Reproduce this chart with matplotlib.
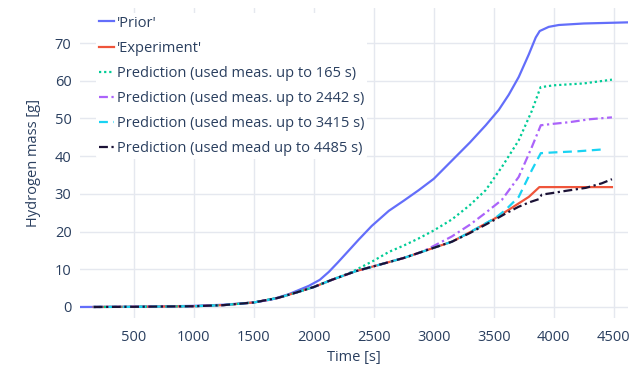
import matplotlib.pyplot as plt

# Hydrogen mass over time: prior model, experiment and predictions
prior_time = [50, 500, 1000, 1250, 1500, 1650, 1792, 1958, 2050, 2125, 2200,
              2292, 2375, 2483, 2625, 2750, 2875, 3000, 3150, 3300, 3433, 3542,
              3625, 3708, 3792, 3850, 3883, 3958, 4042, 4250, 4620]
prior_mass = [0, 0.05, 0.3, 0.6, 1.2, 2.0, 3.4, 5.6, 7.2, 9.3, 11.8,
              15.0, 17.9, 21.5, 25.5, 28.2, 31.0, 34.0, 38.8, 43.6, 48.2, 52.3,
              56.3, 61.0, 67.0, 71.5, 73.2, 74.3, 74.8, 75.2, 75.5]

exp_time = [165, 500, 1000, 1250, 1500, 1700, 1850, 2000, 2150, 2350, 2500, 2750,
            3000, 3150, 3300, 3500, 3650, 3792, 3880, 4485]
exp_mass = [0, 0.05, 0.2, 0.5, 1.2, 2.4, 3.8, 5.3, 7.2, 9.5, 10.8, 13.0,
            15.7, 17.3, 19.8, 23.3, 26.3, 29.2, 31.8, 31.8]

pred_165_time = [165, 500, 1000, 1250, 1500, 1700, 1850, 2000, 2150, 2317, 2500,
                 2625, 2750, 2875, 3000, 3150, 3300, 3433, 3567, 3708, 3817,
                 3890, 4000, 4250, 4485]
pred_165_mass = [0, 0.05, 0.2, 0.5, 1.2, 2.4, 3.8, 5.3, 7.2, 9.3, 12.3,
                 14.6, 16.3, 18.2, 20.3, 23.2, 27.0, 31.0, 37.1, 44.2, 52.0,
                 58.3, 58.8, 59.3, 60.3]

pred_2442_time = [165, 500, 1000, 1250, 1500, 1700, 1850, 2000, 2150, 2350, 2500,
                  2750, 2900, 3000, 3150, 3300, 3433, 3567, 3708, 3817, 3892,
                  4000, 4125, 4300, 4485]
pred_2442_mass = [0, 0.05, 0.2, 0.5, 1.2, 2.4, 3.8, 5.3, 7.2, 9.5, 10.8,
                  13.0, 14.6, 16.2, 18.7, 21.8, 25.0, 28.4, 34.5, 42.4, 48.2,
                  48.6, 49.0, 49.8, 50.3]

pred_3415_time = [165, 500, 1000, 1250, 1500, 1700, 1850, 2000, 2150, 2350, 2500,
                  2750, 3000, 3150, 3300, 3517, 3600, 3708, 3817, 3892, 4000,
                  4200, 4410]
pred_3415_mass = [0, 0.05, 0.2, 0.5, 1.2, 2.4, 3.8, 5.3, 7.2, 9.5, 10.8,
                  13.0, 15.7, 17.3, 19.8, 23.7, 25.8, 29.2, 36.3, 40.8, 41.0,
                  41.3, 41.8]

pred_4485_time = [165, 500, 1000, 1250, 1500, 1700, 1850, 2000, 2150, 2350, 2500,
                  2750, 3000, 3150, 3300, 3500, 3600, 3708, 3800, 3875, 3900,
                  3983, 4100, 4267, 4400, 4485]
pred_4485_mass = [0, 0.05, 0.2, 0.5, 1.2, 2.4, 3.8, 5.3, 7.2, 9.5, 10.8,
                  13.0, 15.7, 17.3, 19.6, 23.0, 24.8, 26.6, 27.8, 28.6, 29.8,
                  30.2, 30.8, 31.6, 32.8, 33.9]

labels = ["'Prior'", "'Experiment'",
          "Prediction (used meas. up to 165 s)",
          "Prediction (used meas. up to 2442 s)",
          "Prediction (used meas. up to 3415 s)",
          "Prediction (used mead up to 4485 s)"]

x_ticks = [500, 1000, 1500, 2000, 2500, 3000, 3500, 4000, 4500]
y_ticks = [0, 10, 20, 30, 40, 50, 60, 70]

text_color = '#2a3f5f'
grid_color = '#e5e8ef'

plt.rcParams['font.family'] = ['Open Sans', 'DejaVu Sans']

fig = plt.figure(figsize=(6.39, 3.65), dpi=100)
ax = fig.add_axes([0.125, 0.129, 0.858, 0.849])

lw = 1.6
ax.plot(prior_time, prior_mass, color='#636efa', lw=lw, label=labels[0])
ax.plot(exp_time, exp_mass, color='#ef553b', lw=lw, label=labels[1])
ax.plot(pred_165_time, pred_165_mass, color='#00cc96', lw=lw,
        linestyle=(0, (1, 1.3)), label=labels[2])
ax.plot(pred_2442_time, pred_2442_mass, color='#ab63fa', lw=lw,
        linestyle=(0, (4, 1.6, 1, 1.6)), label=labels[3])
ax.plot(pred_3415_time, pred_3415_mass, color='#19d3f3', lw=lw,
        linestyle=(0, (4, 2.5)), label=labels[4])
ax.plot(pred_4485_time, pred_4485_mass, color='#1b1236', lw=lw,
        linestyle=(0, (4, 1.6, 1, 1.6)), label=labels[5])

ax.set_xlim(50, 4620)
ax.set_ylim(-2.9, 79.3)
ax.set_xticks(x_ticks)
ax.set_yticks(y_ticks)
ax.grid(True, color=grid_color, lw=1)
ax.set_axisbelow(True)
for side in ax.spines.values():
    side.set_visible(False)
ax.tick_params(length=0, labelsize=10.5, labelcolor=text_color)
ax.tick_params(axis='x', pad=9)
ax.tick_params(axis='y', pad=6)

ax.set_xlabel('Time [s]', fontsize=10.5, color=text_color, labelpad=3)
ax.set_ylabel('Hydrogen mass [g]', fontsize=10.5, color=text_color, labelpad=10)

leg = ax.legend(loc='upper left', bbox_to_anchor=(0.03, 0.985), fontsize=10.5,
                frameon=True, facecolor='white', edgecolor='none', framealpha=1,
                handlelength=1.0, handletextpad=0.2, labelspacing=0.69,
                borderpad=0.2, borderaxespad=0)
for t in leg.get_texts():
    t.set_color(text_color)

fig.savefig('out.png', dpi=100)
